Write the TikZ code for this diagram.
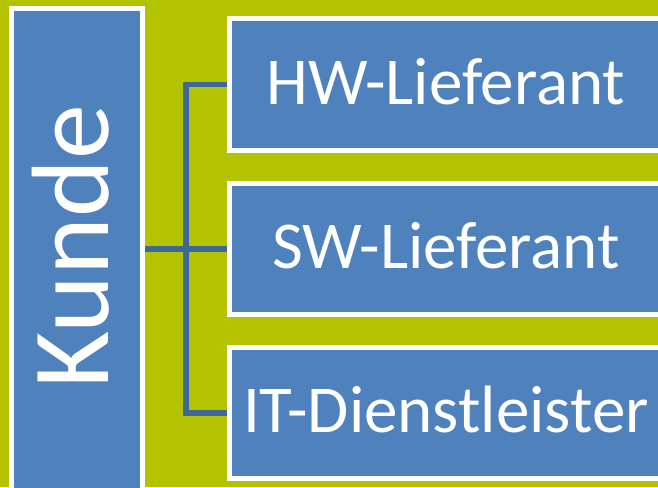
\documentclass[tikz,border=0pt]{standalone}
\usepackage{fontspec}
\setmainfont{Carlito}
\usetikzlibrary{calc}
\definecolor{bgc}{RGB}{180,195,0}
\definecolor{boxc}{RGB}{79,129,189}
\definecolor{connc}{RGB}{61,104,152}
\tikzset{
  box/.style={draw=white, line width=5pt, fill=boxc, inner sep=0pt, text=white},
  rbox/.style={box, minimum width=433pt, minimum height=131pt, font=\fontsize{67}{70}\selectfont, text height=42pt, text depth=3pt},
  conn/.style={draw=connc, line width=5.5pt},
  lbl/.style={text=white, inner sep=0pt, font=\fontsize{110}{115}\selectfont}
}
\begin{document}
\begin{tikzpicture}[x=1pt,y=-1pt]
\useasboundingbox (0,0) rectangle (658,487);
\clip (0,0) rectangle (658,487);
\fill[bgc] (0,0) rectangle (658,487);
\node[box, minimum width=131pt, minimum height=491pt] (kunde) at (77,254) {};
\node[lbl, rotate=90, anchor=base] (kundetext) at (108,247) {Kunde};
\node[rbox, minimum height=132pt] (hw) at (446,84.5) {HW-Lieferant};
\node[rbox] (sw) at (446,249) {SW-Lieferant};
\node[rbox] (it) at (446,413) {IT-Dienstleister};
\coordinate (bus) at ($(kunde.east)!0.5!(sw.west)$);
\draw[conn] (hw.west) -| (bus) |- (it.west);
\draw[conn] (kunde.east |- sw.west) -- (sw.west);
\end{tikzpicture}
\end{document}
